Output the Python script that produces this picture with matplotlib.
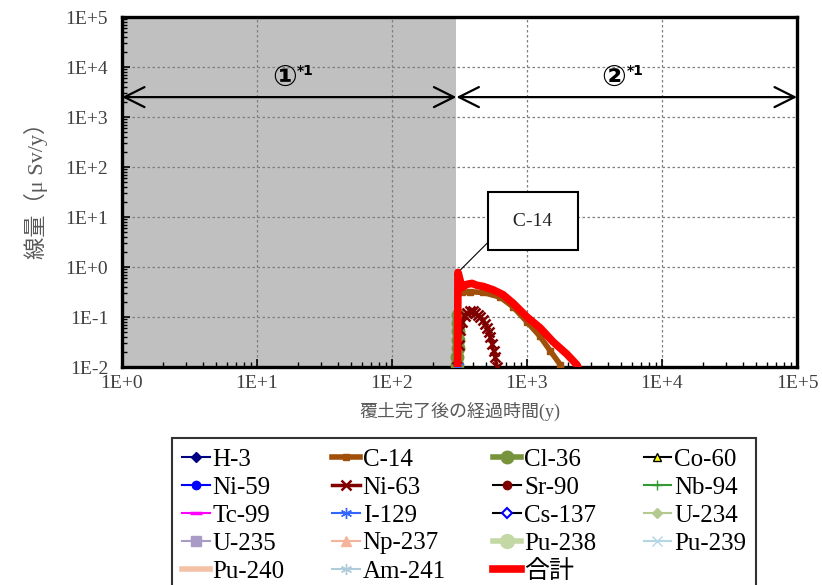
import matplotlib
matplotlib.use("Agg")
import matplotlib.pyplot as plt

plt.rcParams['font.family'] = ['Liberation Serif', 'Noto Sans CJK JP']

# elapsed time after cover completion (y) and dose (uSv/y)
total_t = [305, 308, 330, 359, 391, 426, 472, 560, 664, 787, 1000, 1248, 1558, 1977, 2345, 2600]
total_v = [0.003, 0.78, 0.39, 0.45, 0.47, 0.43, 0.41, 0.35, 0.28, 0.19, 0.10, 0.061, 0.032, 0.018, 0.011, 0.006]

c14_t = [305, 308, 330, 377, 472, 632, 787, 1000, 1248, 1487, 1770, 2000]
c14_v = [0.003, 0.70, 0.31, 0.32, 0.31, 0.25, 0.16, 0.080, 0.041, 0.021, 0.011, 0.006]

ni63_t = [305, 312, 320, 330, 345, 360, 377, 395, 412, 430, 449, 470, 490, 505,
          520, 535, 550, 565, 580, 600, 620]
ni63_v = [0.01, 0.027, 0.054, 0.081, 0.107, 0.123, 0.129, 0.129, 0.123, 0.112, 0.102,
          0.089, 0.074, 0.061, 0.049, 0.039, 0.029, 0.021, 0.0155, 0.0102, 0.006]

cl36_t = [304, 305, 306, 307, 308, 309, 310]
cl36_v = [0.011, 0.016, 0.024, 0.035, 0.052, 0.075, 0.11]

i129_t = [303, 306, 309]
i129_v = [0.006, 0.0105, 0.006]

# these stay below 1E-2 for the whole period, so only the legend shows them
hidden = ['H-3', 'Co-60', 'Ni-59', 'Sr-90', 'Nb-94', 'Tc-99', 'Cs-137', 'U-234',
          'U-235', 'Np-237', 'Pu-238', 'Pu-239', 'Pu-240', 'Am-241']

names = ['H-3', 'C-14', 'Cl-36', 'Co-60', 'Ni-59', 'Ni-63', 'Sr-90', 'Nb-94',
         'Tc-99', 'I-129', 'Cs-137', 'U-234', 'U-235', 'Np-237', 'Pu-238',
         'Pu-239', 'Pu-240', 'Am-241', '合計']

visible = {'C-14': (c14_t, c14_v), 'Cl-36': (cl36_t, cl36_v),
           'Ni-63': (ni63_t, ni63_v), 'I-129': (i129_t, i129_v),
           '合計': (total_t, total_v)}

ast = (6, 2, 0)
styles = {
    'H-3': dict(color='#000080', marker='D', ms=5),
    'C-14': dict(color='#A0500A', marker='s', ms=4.5, lw=4),
    'Cl-36': dict(color='#77933C', marker='o', ms=9, lw=4),
    'Co-60': dict(color='black', marker='^', ms=6, mfc='yellow', mec='black'),
    'Ni-59': dict(color='#0000FF', marker='o', ms=6),
    'Ni-63': dict(color='#800000', marker='x', ms=7, mew=1.8, lw=2.5),
    'Sr-90': dict(color='black', marker='o', ms=6, mfc='#800000', mec='#800000'),
    'Nb-94': dict(color='#339933', marker='+', ms=7),
    'Tc-99': dict(color='#FF00FF', marker='_', ms=8, mew=2.5),
    'I-129': dict(color='#3366FF', marker=ast, ms=8),
    'Cs-137': dict(color='black', marker='D', ms=5, mfc='white', mec='#0000FF', mew=1.5),
    'U-234': dict(color='#B3C98F', marker='D', ms=5),
    'U-235': dict(color='#A99BC6', marker='s', ms=7),
    'Np-237': dict(color='#F4B59C', marker='^', ms=7),
    'Pu-238': dict(color='#C4D8A6', marker='o', ms=10, lw=4),
    'Pu-239': dict(color='#B4D6E6', marker='x', ms=7),
    'Pu-240': dict(color='#F5C1A6', lw=4),
    'Am-241': dict(color='#B0CCDA', marker=ast, ms=8),
    '合計': dict(color='#FF0000', lw=5.5),
}

fig = plt.figure(figsize=(8.22, 5.85), dpi=100)
ax = fig.add_axes([122 / 822, 1 - 367 / 585, 675 / 822, 350 / 585])
ax.set_xscale('log')
ax.set_yscale('log')
ax.set_xlim(1, 1e5)
ax.set_ylim(1e-2, 1e5)

# management period ① shaded
ax.axvspan(1, 300, color='#C0C0C0', lw=0, zorder=0)
ax.grid(True, which='major', linestyle=(0, (2, 2)), color='#7F7F7F', lw=0.9)
ax.set_axisbelow(True)

lines = {}
for n in names:
    st = dict(lw=1.5)
    st.update(styles[n])
    t, v = visible.get(n, ([], []))
    z = 5 if n == '合計' else 3
    lines[n], = ax.plot(t, v, label=n, zorder=z, **st)

xt = [1, 10, 100, 1e3, 1e4, 1e5]
ax.set_xticks(xt)
ax.set_xticklabels(['1E+0', '1E+1', '1E+2', '1E+3', '1E+4', '1E+5'])
yt = [1e-2, 1e-1, 1, 10, 100, 1e3, 1e4, 1e5]
ax.set_yticks(yt)
ax.set_yticklabels(['1E-2', '1E-1', '1E+0', '1E+1', '1E+2', '1E+3', '1E+4', '1E+5'])
ax.tick_params(which='both', direction='in', colors='black', labelcolor='#404040',
               labelsize=14)
ax.tick_params(which='major', length=6, width=1.2)
ax.tick_params(which='minor', length=3.5, width=1)
ax.tick_params(axis='y', pad=10)
ax.tick_params(axis='x', pad=6)
for s in ax.spines.values():
    s.set_linewidth(2.4)

ax.set_ylabel('線量（μ Sv/y）', fontsize=16, color='#595959')
ax.yaxis.set_label_coords(-0.11, 0.52)
ax.set_xlabel('覆土完了後の経過時間(y)', fontsize=13, color='#595959')
ax.xaxis.set_label_coords(0.5, -0.1)

# period arrows
arr = dict(arrowstyle='<->,head_length=1.2,head_width=0.6', lw=1.6, color='black',
           shrinkA=0, shrinkB=0, mutation_scale=12)
ax.annotate('', xy=(1, 2500), xytext=(300, 2500), arrowprops=arr)
ax.annotate('', xy=(300, 2500), xytext=(1e5, 2500), arrowprops=arr)
for xc, lab in [(16, '①'), (4400, '②')]:
    ax.text(xc, 6000, lab, ha='center', va='center', fontsize=21, fontweight='bold',
            family=['DejaVu Sans', 'Noto Sans CJK JP'])
    ax.annotate('*1', xy=(xc, 6000), xytext=(9, 5), textcoords='offset points',
                fontsize=10, fontweight='bold', family='DejaVu Sans', va='center')

# callout on the peak
ax.annotate(' C-14 ', xy=(308, 0.78), xytext=(1107, 8.3), fontsize=14, ha='center',
            va='center', color='#222222',
            bbox=dict(boxstyle='square,pad=1.05', fc='white', ec='black', lw=1.5),
            arrowprops=dict(arrowstyle='-', lw=0.8, color='black', relpos=(0, 0.45),
                            shrinkA=0, shrinkB=0))

# legend fills column by column, so feed it column-wise to read row-wise
order = [n for i in range(4) for n in names[i::4]]
leg = fig.legend(handles=[lines[n] for n in order], loc='upper left',
                 bbox_to_anchor=(172 / 822, 1 - 438 / 585),
                 ncol=4, fontsize=18, frameon=True, fancybox=False, edgecolor='black',
                 handlelength=1.1, handletextpad=0.12, columnspacing=1.9,
                 labelspacing=0.22, borderpad=0.4, borderaxespad=0)
leg.get_frame().set_linewidth(1.5)

fig.savefig('out.png', dpi=100)
